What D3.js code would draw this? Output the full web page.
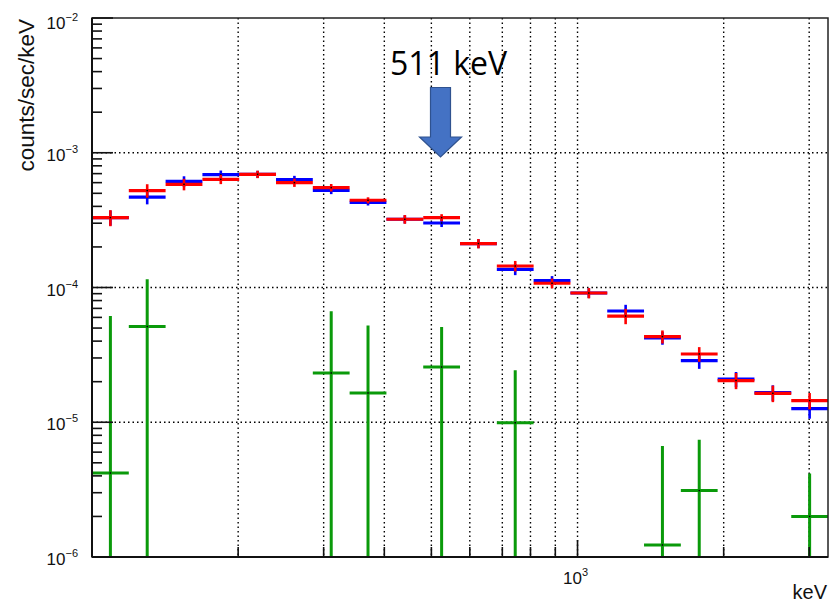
<!DOCTYPE html>
<html>
<head>
<meta charset="utf-8">
<script src="https://cdn.jsdelivr.net/npm/d3@7"></script>
<style>
  body { margin: 0; background: #fff; }
  svg { display: block; }
</style>
</head>
<body>
<svg id="chart" width="829" height="603"></svg>
<script>
// Energy bins (keV), logarithmic edges
const binEdges = [100, 119.07, 141.77, 168.81, 201.0, 239.33, 284.97, 339.31, 404.01, 481.05,
  572.78, 682.0, 812.05, 966.9, 1151.27, 1370.8, 1632.2, 1943.44, 2314.04, 2755.3, 3280];

// Count rates (counts/sec/keV) and their errors
const blueRate = [3.30e-4, 4.69e-4, 6.14e-4, 6.88e-4, 6.92e-4, 6.32e-4, 5.26e-4, 4.29e-4, 3.21e-4, 3.01e-4,
  2.12e-4, 1.365e-4, 1.125e-4, 9.1e-5, 6.69e-5, 4.22e-5, 2.87e-5, 2.09e-5, 1.66e-5, 1.263e-5];
const blueErr = [0.42e-4, 0.55e-4, 0.55e-4, 0.5e-4, 0.42e-4, 0.42e-4, 0.33e-4, 0.23e-4, 0.22e-4, 0.2e-4,
  0.16e-4, 0.13e-4, 0.09e-4, 0.75e-5, 0.75e-5, 0.46e-5, 0.38e-5, 0.27e-5, 0.22e-5, 0.2e-5];

const redRate = [3.30e-4, 5.24e-4, 5.83e-4, 6.35e-4, 6.92e-4, 6.0e-4, 5.51e-4, 4.44e-4, 3.21e-4, 3.30e-4,
  2.12e-4, 1.444e-4, 1.075e-4, 9.1e-5, 6.14e-5, 4.32e-5, 3.21e-5, 2.04e-5, 1.64e-5, 1.447e-5];
const redErr = [0.45e-4, 0.6e-4, 0.57e-4, 0.5e-4, 0.44e-4, 0.42e-4, 0.35e-4, 0.23e-4, 0.24e-4, 0.2e-4,
  0.17e-4, 0.13e-4, 0.09e-4, 0.8e-5, 0.8e-5, 0.48e-5, 0.4e-5, 0.28e-5, 0.23e-5, 0.2e-5];

// Difference spectrum (only positive bins are shown on the log axis)
const greenRate = [4.2e-6, 5.13e-5, null, null, null, null, 2.32e-5, 1.65e-5, null, 2.57e-5,
  null, 9.91e-6, null, null, null, 1.228e-6, 3.11e-6, null, null, 2.0e-6];
const greenErr = [5.72e-5, 6.37e-5, null, null, null, null, 4.34e-5, 3.57e-5, null, 2.52e-5,
  null, 1.44e-5, null, null, null, 5.43e-6, 4.32e-6, null, null, 2.16e-6];

// Axis ticks
const xGridTicks = [200, 300, 400, 500, 600, 700, 800, 900, 1000, 2000, 3000];
const xMajorTicks = [1000];
const yDecades = [-6, -5, -4, -3, -2];
const yGridTicks = [1e-5, 1e-4, 1e-3];

const xTitle = "keV";
const yTitle = "counts/sec/keV";
const lineLabel = "511 keV";

const L = 92, R = 828, T = 18, B = 557;
const svg = d3.select("#chart");
const x = d3.scaleLog().domain([100, 3280]).range([L, R]);
const y = d3.scaleLog().domain([1e-6, 1e-2]).range([B, T]);

svg.append("defs").append("clipPath").attr("id", "plot")
  .append("rect").attr("x", L).attr("y", T).attr("width", R - L).attr("height", B - T);

// Dotted grid
const grid = svg.append("g").attr("stroke", "#000").attr("stroke-width", 1.4)
  .attr("stroke-dasharray", "1.5,3");
grid.selectAll(".gx").data(xGridTicks).join("line")
  .attr("x1", d => x(d)).attr("x2", d => x(d)).attr("y1", T).attr("y2", B);
grid.selectAll(".gy").data(yGridTicks).join("line")
  .attr("x1", L).attr("x2", R).attr("y1", d => y(d)).attr("y2", d => y(d));

// Histogram points with error bars
const bins = binEdges.slice(0, -1).map((lo, i) => ({ lo, hi: binEdges[i + 1], c: Math.sqrt(lo * binEdges[i + 1]) }));
const plot = svg.append("g").attr("clip-path", "url(#plot)");

function drawSeries(rate, err, color, hw, vw) {
  const g = plot.append("g").attr("stroke", color);
  bins.forEach((b, i) => {
    const v = rate[i];
    if (v == null) return;
    const e = err[i];
    const lo = Math.max(v - e, 1e-8);
    g.append("line").attr("stroke-width", vw)
      .attr("x1", x(b.c)).attr("x2", x(b.c)).attr("y1", y(v + e)).attr("y2", y(lo));
    g.append("line").attr("stroke-width", hw)
      .attr("x1", x(b.lo)).attr("x2", x(b.hi)).attr("y1", y(v)).attr("y2", y(v));
    plot.append("rect").attr("fill", "#000")
      .attr("x", x(b.c) - 0.75).attr("y", y(v) - 0.75).attr("width", 1.5).attr("height", 1.5);
  });
}
drawSeries(greenRate, greenErr, "#0a9a0a", 3, 3);
drawSeries(blueRate, blueErr, "#0000ff", 3.2, 2.6);
drawSeries(redRate, redErr, "#ff0000", 3.2, 2.6);

// Frame
svg.append("rect").attr("x", L).attr("y", T).attr("width", R - L).attr("height", B - T)
  .attr("fill", "none").attr("stroke", "#222").attr("stroke-width", 1.5);
svg.append("line").attr("x1", L).attr("x2", L).attr("y1", T).attr("y2", B)
  .attr("stroke", "#111").attr("stroke-width", 2);
svg.append("line").attr("x1", L).attr("x2", R).attr("y1", B).attr("y2", B)
  .attr("stroke", "#111").attr("stroke-width", 2);

// Y ticks (inward)
const yTicks = svg.append("g").attr("stroke", "#111").attr("stroke-width", 1.6);
yDecades.forEach(n => {
  const major = Math.pow(10, n);
  yTicks.append("line").attr("x1", L).attr("x2", L + 21).attr("y1", y(major)).attr("y2", y(major));
  if (n < -2) {
    for (let k = 2; k <= 9; k++) {
      const v = k * major;
      yTicks.append("line").attr("x1", L).attr("x2", L + 10).attr("y1", y(v)).attr("y2", y(v));
    }
  }
});

// X ticks (inward)
const xTicks = svg.append("g").attr("stroke", "#111").attr("stroke-width", 1.6);
xGridTicks.forEach(v => {
  const len = xMajorTicks.includes(v) ? 17 : 10;
  xTicks.append("line").attr("x1", x(v)).attr("x2", x(v)).attr("y1", B).attr("y2", B - len);
});

const axisFont = "'Liberation Sans', Arial, Helvetica, sans-serif";

// Y tick labels 10^n
yDecades.forEach(n => {
  const t = svg.append("text").attr("x", 78).attr("y", y(Math.pow(10, n)) + (n === -2 ? 11 : 8))
    .attr("text-anchor", "end").attr("font-family", axisFont).attr("fill", "#111");
  t.append("tspan").attr("font-size", 17).text("10");
  t.append("tspan").attr("font-size", 11).attr("dy", -8).text("\u2212" + Math.abs(n));
});

// X tick label 10^3
xMajorTicks.forEach(v => {
  const t = svg.append("text").attr("x", x(v) - 2).attr("y", 584)
    .attr("text-anchor", "middle").attr("font-family", axisFont).attr("fill", "#111");
  t.append("tspan").attr("font-size", 17).text("10");
  t.append("tspan").attr("font-size", 11).attr("dy", -8).text(Math.round(Math.log10(v)));
});

// Axis titles
svg.append("text").attr("x", 827).attr("y", 599).attr("text-anchor", "end")
  .attr("font-family", axisFont).attr("font-size", 20).attr("fill", "#111").text(xTitle);
svg.append("text").attr("transform", "translate(34,19) rotate(-90)").attr("text-anchor", "end")
  .attr("font-family", axisFont).attr("font-size", 22.5).attr("fill", "#111").text(yTitle);

// 511 keV marker arrow
const ax = 440.5;
const arrow = d3.path();
arrow.moveTo(ax - 10, 87.5); arrow.lineTo(ax + 10, 87.5); arrow.lineTo(ax + 10, 137);
arrow.lineTo(ax + 21, 137); arrow.lineTo(ax, 157); arrow.lineTo(ax - 21, 137);
arrow.lineTo(ax - 10, 137); arrow.closePath();
svg.append("path").attr("d", arrow.toString()).attr("fill", "#4472c4")
  .attr("stroke", "#2f528f").attr("stroke-width", 1.2);
svg.append("text").attr("x", 390).attr("y", 75)
  .attr("font-family", "'Open Sans', 'Liberation Sans', sans-serif").attr("font-size", 32)
  .attr("fill", "#000").text(lineLabel);
</script>
</body>
</html>
